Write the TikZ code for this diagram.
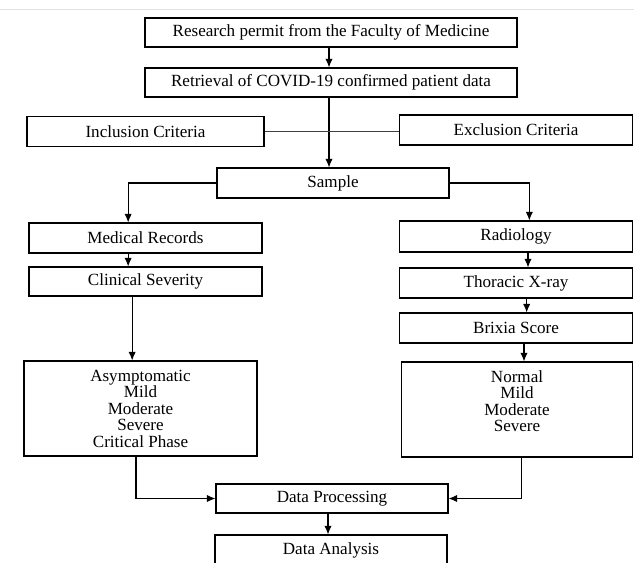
\documentclass[tikz,border=0pt]{standalone}
\usepackage{fontspec}
\setmainfont{Liberation Serif}
\usepackage{tikz}
\usetikzlibrary{arrows.meta}
\tikzset{>={Latex[length=6.5pt,width=5.5pt]}}
\tikzset{box/.style={draw,line width=0.8pt,inner sep=0pt,align=center,font=\fontsize{12.8pt}{12.4pt}\selectfont}}

\begin{document}
\begin{tikzpicture}[x=0.75pt,y=-0.75pt,line width=0.8pt]
            \useasboundingbox (0,0) rectangle (634,562);
            \clip (0,0) rectangle (634,562);
            \draw[black!12,line width=0.5pt] (0,9) -- (634,9);
            \node[box,minimum width=279pt,minimum height=21.75pt] (permit) at (331,32.5){Research permit from the Faculty of Medicine};
            \node[box,minimum width=279pt,minimum height=21.75pt] (retrieval) at (331,82.5){Retrieval of COVID-19 confirmed patient data};
            \node[box,minimum width=177.75pt,minimum height=22.5pt] (inclusion) at (145.5,131.5){Inclusion Criteria};
            \node[box,minimum width=174.75pt,minimum height=22.5pt] (exclusion) at (516,130){Exclusion Criteria};
            \node[box,minimum width=174pt,minimum height=22.5pt] (sample) at (333,183){Sample};
            \node[box,minimum width=174.75pt,minimum height=22.5pt] (medical) at (145.5,238){Medical Records};
            \node[box,minimum width=174.75pt,minimum height=21.75pt] (clinical) at (145.5,281.5){Clinical Severity};
            \node[box,minimum width=174.75pt,minimum height=71.25pt] (asym) at (140.5,408.5){Asymptomatic\\Mild\\Moderate\\Severe\\Critical Phase};
            \node[box,minimum width=174.75pt,minimum height=23.25pt] (radiology) at (516,236.5){Radiology};
            \node[box,minimum width=174.75pt,minimum height=22.5pt] (thoracic) at (516,283){Thoracic X-ray};
            \node[box,minimum width=174.75pt,minimum height=22.5pt] (brixia) at (516,328){Brixia Score};
            \node[box,minimum width=173.25pt,minimum height=71.25pt] (normal) at (517,409.5){Normal\\Mild\\Moderate\\Severe\\\mbox{}};
            \node[box,minimum width=174pt,minimum height=21.75pt] (processing) at (332,498.5){Data Processing};
            \node[box,minimum width=174pt,minimum height=22.5pt] (analysis) at (331,550){Data Analysis};
            \draw[->] ([xshift=-1.5pt]permit.south) -- ([xshift=-1.5pt]retrieval.north);
            \draw[->] ([xshift=-1.5pt]retrieval.south) -- ([xshift=-1.5pt]retrieval.south |- sample.north);
            \draw[black!75,line width=0.6pt] (inclusion.east) -- (inclusion.east -| exclusion.west);
            \draw[->] (sample.west) -| ([xshift=-13pt]medical.north);
            \draw[->] (sample.east) -| ([xshift=10pt]radiology.north);
            \draw[->] ([xshift=-13pt]medical.south) -- ([xshift=-13pt]clinical.north);
            \draw[->] ([xshift=-10pt]clinical.south) -- ([xshift=-10pt]clinical.south |- asym.north);
            \draw[->] ([xshift=9pt]radiology.south) -- ([xshift=9pt]thoracic.north);
            \draw[->] ([xshift=8pt]thoracic.south) -- ([xshift=8pt]brixia.north);
            \draw[->] ([xshift=6pt]brixia.south) -- ([xshift=6pt]brixia.south |- normal.north);
            \draw[->] ([xshift=-3.4pt]asym.south) |- (processing.west);
            \draw[->] ([xshift=3.4pt]normal.south) |- (processing.east);
            \draw[->] ([xshift=-3pt]processing.south) -- ([xshift=-3pt]processing.south |- analysis.north);
        \end{tikzpicture}
\end{document}
